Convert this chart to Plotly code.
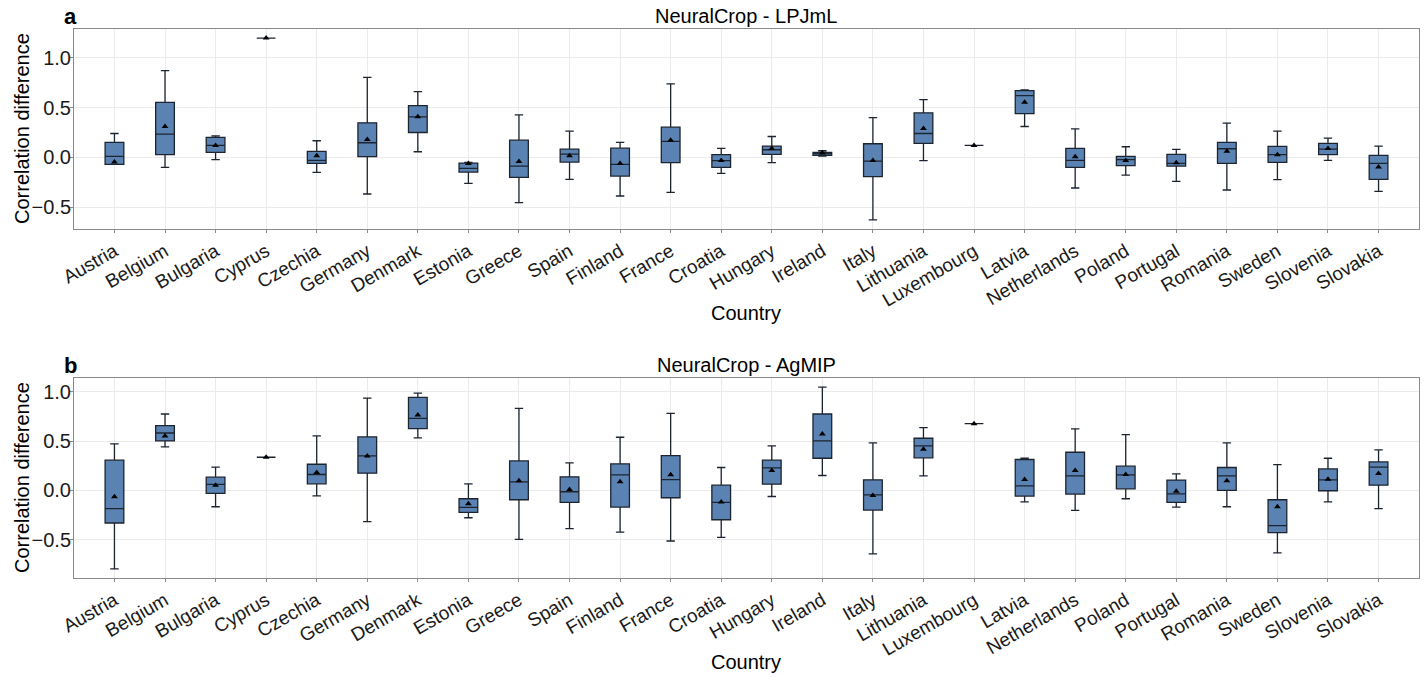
import plotly.graph_objects as go

countries = ["Austria", "Belgium", "Bulgaria", "Cyprus", "Czechia", "Germany", "Denmark",
             "Estonia", "Greece", "Spain", "Finland", "France", "Croatia", "Hungary",
             "Ireland", "Italy", "Lithuania", "Luxembourg", "Latvia", "Netherlands",
             "Poland", "Portugal", "Romania", "Sweden", "Slovenia", "Slovakia"]

# NeuralCrop - LPJmL: per-country box statistics
lpj_lo = [-0.07, -0.10, -0.023, 1.197, -0.15, -0.367, 0.057, -0.26, -0.453, -0.22, -0.387, -0.35, -0.16,
          -0.053, 0.013, -0.627, -0.033, 0.12, 0.31, -0.307, -0.177, -0.24, -0.327, -0.223, -0.03, -0.34]
lpj_q1 = [-0.07, 0.027, 0.05, 1.197, -0.06, 0.007, 0.25, -0.147, -0.20, -0.047, -0.187, -0.053, -0.10,
          0.03, 0.02, -0.193, 0.14, 0.12, 0.44, -0.10, -0.083, -0.087, -0.06, -0.05, 0.027, -0.22]
lpj_med = [0.01, 0.233, 0.12, 1.197, -0.03, 0.147, 0.407, -0.11, -0.087, 0.033, -0.07, 0.16, -0.033,
           0.077, 0.037, -0.037, 0.24, 0.12, 0.62, -0.03, -0.023, -0.06, 0.087, 0.027, 0.083, -0.06]
lpj_q3 = [0.15, 0.553, 0.20, 1.197, 0.06, 0.347, 0.52, -0.057, 0.173, 0.083, 0.093, 0.303, 0.027,
          0.113, 0.05, 0.137, 0.447, 0.12, 0.67, 0.09, 0.01, 0.03, 0.15, 0.11, 0.14, 0.02]
lpj_hi = [0.24, 0.87, 0.217, 1.197, 0.167, 0.803, 0.66, -0.05, 0.427, 0.263, 0.15, 0.737, 0.09,
          0.21, 0.067, 0.40, 0.58, 0.12, 0.677, 0.287, 0.107, 0.08, 0.343, 0.263, 0.193, 0.113]
lpj_mean = [-0.045, 0.31, 0.12, 1.197, 0.017, 0.18, 0.407, -0.06, -0.04, 0.017, -0.06, 0.173, -0.03,
            0.09, 0.043, -0.03, 0.29, 0.12, 0.553, 0.007, -0.03, -0.053, 0.063, 0.027, 0.09, -0.097]

# NeuralCrop - AgMIP: per-country box statistics
agm_lo = [-0.796, 0.442, -0.165, 0.337, -0.054, -0.317, 0.533, -0.277, -0.496, -0.388, -0.422, -0.513, -0.476,
          -0.061, 0.152, -0.644, 0.148, 0.678, -0.115, -0.202, -0.084, -0.169, -0.165, -0.634, -0.115, -0.185]
agm_q1 = [-0.33, 0.503, -0.03, 0.337, 0.067, 0.175, 0.627, -0.223, -0.094, -0.121, -0.169, -0.074, -0.297,
          0.064, 0.327, -0.199, 0.331, 0.678, -0.057, -0.037, 0.017, -0.121, 0.0, -0.428, -0.003, 0.054]
agm_med = [-0.185, 0.583, 0.061, 0.337, 0.162, 0.351, 0.732, -0.172, 0.088, -0.013, 0.159, 0.111, -0.121,
           0.229, 0.503, -0.044, 0.452, 0.678, 0.047, 0.148, 0.159, -0.034, 0.148, -0.357, 0.108, 0.236]
agm_q3 = [0.307, 0.658, 0.135, 0.337, 0.266, 0.543, 0.944, -0.084, 0.30, 0.138, 0.27, 0.354, 0.054,
          0.307, 0.776, 0.108, 0.53, 0.678, 0.314, 0.388, 0.246, 0.105, 0.233, -0.094, 0.219, 0.29]
agm_hi = [0.472, 0.776, 0.236, 0.337, 0.553, 0.938, 0.988, 0.067, 0.833, 0.28, 0.54, 0.782, 0.233,
          0.452, 1.049, 0.482, 0.637, 0.678, 0.327, 0.624, 0.567, 0.169, 0.482, 0.263, 0.327, 0.411]
agm_mean = [-0.064, 0.553, 0.054, 0.337, 0.182, 0.351, 0.766, -0.135, 0.098, 0.01, 0.088, 0.159, -0.118,
            0.202, 0.573, -0.051, 0.418, 0.678, 0.111, 0.202, 0.162, -0.007, 0.098, -0.165, 0.115, 0.172]

panels = [
    ("NeuralCrop - LPJmL", "a", lpj_lo, lpj_q1, lpj_med, lpj_q3, lpj_hi, lpj_mean),
    ("NeuralCrop - AgMIP", "b", agm_lo, agm_q1, agm_med, agm_q3, agm_hi, agm_mean),
]

W, H = 1427, 677
FONT = "Liberation Sans, Arial, Helvetica, sans-serif"
BOX_FILL = "#5a83b3"
BOX_LINE = "#1c2430"
FRAME = "#8a8a8a"
GRID = "#ebebeb"

# pixel layout of each panel's plotting area (top, bottom)
x_left, x_right = 74, 1419
panel_px = [(29, 229), (378, 578)]

fig = go.Figure()
for i, (title, tag, lo, q1, med, q3, hi, mean) in enumerate(panels):
    xa = "x" if i == 0 else "x2"
    ya = "y" if i == 0 else "y2"
    fig.add_trace(go.Box(
        x=countries, lowerfence=lo, q1=q1, median=med, q3=q3, upperfence=hi,
        xaxis=xa, yaxis=ya, width=0.37, whiskerwidth=0.45,
        fillcolor=BOX_FILL, line=dict(color=BOX_LINE, width=1.3),
        boxpoints=False, showlegend=False, hoverinfo="skip",
    ))
    fig.add_trace(go.Scatter(
        x=countries, y=mean, xaxis=xa, yaxis=ya, mode="markers",
        marker=dict(symbol="triangle-up", size=6, color="black"),
        showlegend=False, hoverinfo="skip",
    ))

    lo_all = min(lo)
    hi_all = max(hi)
    pad = 0.05 * (hi_all - lo_all)
    top, bot = panel_px[i]
    dom_y = [1 - bot / H, 1 - top / H]
    axis_common = dict(
        showline=True, linecolor=FRAME, linewidth=1, mirror=True,
        showgrid=True, gridcolor=GRID, gridwidth=1, zeroline=False,
        ticks="outside", ticklen=3, tickcolor=FRAME, automargin=False,
    )
    fig.update_layout(**{
        ("xaxis" if i == 0 else "xaxis2"): dict(
            axis_common, domain=[x_left / W, x_right / W], anchor=ya,
            type="category", categoryorder="array", categoryarray=countries,
            range=[-0.8, len(countries) - 0.2], tickangle=-30,
            tickfont=dict(family=FONT, size=19, color="#1a1a1a"),
        ),
        ("yaxis" if i == 0 else "yaxis2"): dict(
            axis_common, domain=dom_y, anchor=xa,
            range=[lo_all - pad, hi_all + pad],
            tickvals=[-0.5, 0.0, 0.5, 1.0], ticktext=["\u22120.5", "0.0", "0.5", "1.0"],
            tickfont=dict(family=FONT, size=20, color="#1a1a1a"),
            ticklabelstandoff=-5,
        ),
    })

    # panel title, panel tag, axis titles
    fig.add_annotation(text=title, x=(x_left + x_right) / 2 / W, y=1 - (top - 13) / H,
                       xref="paper", yref="paper", showarrow=False, xanchor="center", yanchor="middle",
                       font=dict(family=FONT, size=20, color="black"))
    fig.add_annotation(text="<b>" + tag + "</b>", x=62 / W, y=1 - (top - 12) / H,
                       xref="paper", yref="paper", showarrow=False, xanchor="left", yanchor="middle",
                       font=dict(family=FONT, size=22, color="black"))
    fig.add_annotation(text="Country", x=(x_left + x_right) / 2 / W, y=1 - (bot + 84) / H,
                       xref="paper", yref="paper", showarrow=False, xanchor="center", yanchor="middle",
                       font=dict(family=FONT, size=20, color="black"))
    fig.add_annotation(text="Correlation difference", x=22 / W, y=1 - (top + bot) / 2 / H,
                       xref="paper", yref="paper", showarrow=False, xanchor="center", yanchor="middle",
                       textangle=-90, font=dict(family=FONT, size=20, color="black"))

fig.update_layout(
    width=W, height=H, margin=dict(l=0, r=0, t=0, b=0, autoexpand=False),
    paper_bgcolor="white", plot_bgcolor="white",
    font=dict(family=FONT),
)

fig.write_html("out.html")
